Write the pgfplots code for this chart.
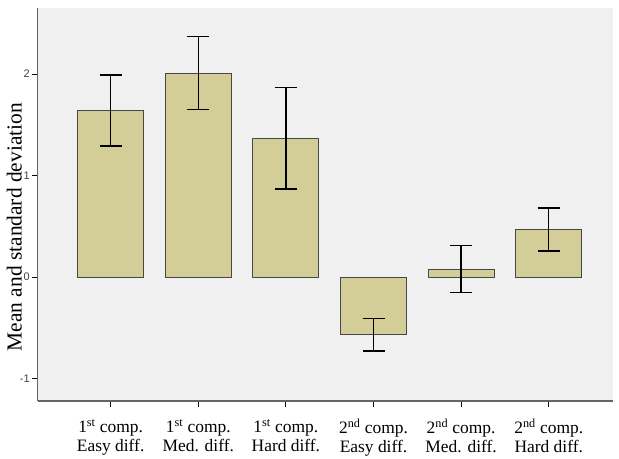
\documentclass[border=0pt]{standalone}
\usepackage{pgfplots}
\pgfplotsset{compat=1.18}
\usepackage{pgfplotstable}
\usepackage{fontspec}
\setmainfont{Liberation Serif}
\newfontfamily\ticksans{Liberation Sans}

\definecolor{barfill}{RGB}{211,206,152}
\definecolor{panelbg}{RGB}{240,240,240}
\definecolor{axisgray}{RGB}{100,100,100}

% mean and standard deviation per comparison / difficulty
\pgfplotstableread{
x     mean    sd
0     1.64    0.35
1     2.01    0.36
2     1.37    0.50
3    -0.565   0.16
4     0.08    0.23
5     0.47    0.21
}\scores

\begin{document}
\begin{tikzpicture}[x=1bp,y=1bp]
\begin{axis}[
  at={(43,57)}, anchor=south west,
  scale only axis, width=575bp, height=393bp,
  xmin=-0.833, xmax=5.73, ymin=-1.22, ymax=2.65,
  axis background/.style={fill=panelbg},
  axis lines*=left,
  axis line style={draw=axisgray, line width=1.6bp},
  tick align=outside,
  major tick length=5.5bp,
  tick style={black, line width=1.2bp},
  ytick={-1,0,1,2},
  yticklabels={-1,0,1,2},
  yticklabel style={font=\ticksans\fontsize{11}{12}\selectfont, text=black!75, xshift=1bp},
  xtick={0,1,2,3,4,5},
  xticklabels={
    1\textsuperscript{st} comp.\\Easy diff.,
    1\textsuperscript{st} comp.\\Med. diff.,
    1\textsuperscript{st} comp.\\Hard diff.,
    2\textsuperscript{nd} comp.\\Easy diff.,
    2\textsuperscript{nd} comp.\\Med. diff.,
    2\textsuperscript{nd} comp.\\Hard diff.},
  xticklabel style={font=\fontsize{17.5}{19}\selectfont, align=center, yshift=-9bp},
  ylabel={Mean and standard deviation},
  ylabel style={at={(axis description cs:-0.0278,0.4427)}, anchor=base,
    font=\fontsize{21.5}{24}\selectfont},
]
\addplot[ybar, bar width=66bp, fill=barfill, draw=black!72, line width=0.9bp,
  error bars/.cd, y dir=both, y explicit,
  error bar style={black, line width=1.5bp},
  error mark options={rotate=90, mark size=11bp, line width=1.5bp, black}]
  table[x=x, y=mean, y error=sd] {\scores};
\end{axis}
% fix the page to the full canvas, whatever the axis nodes reach
\pgfresetboundingbox
\path[use as bounding box] (0,0) rectangle (619,459);
\end{tikzpicture}
\end{document}
